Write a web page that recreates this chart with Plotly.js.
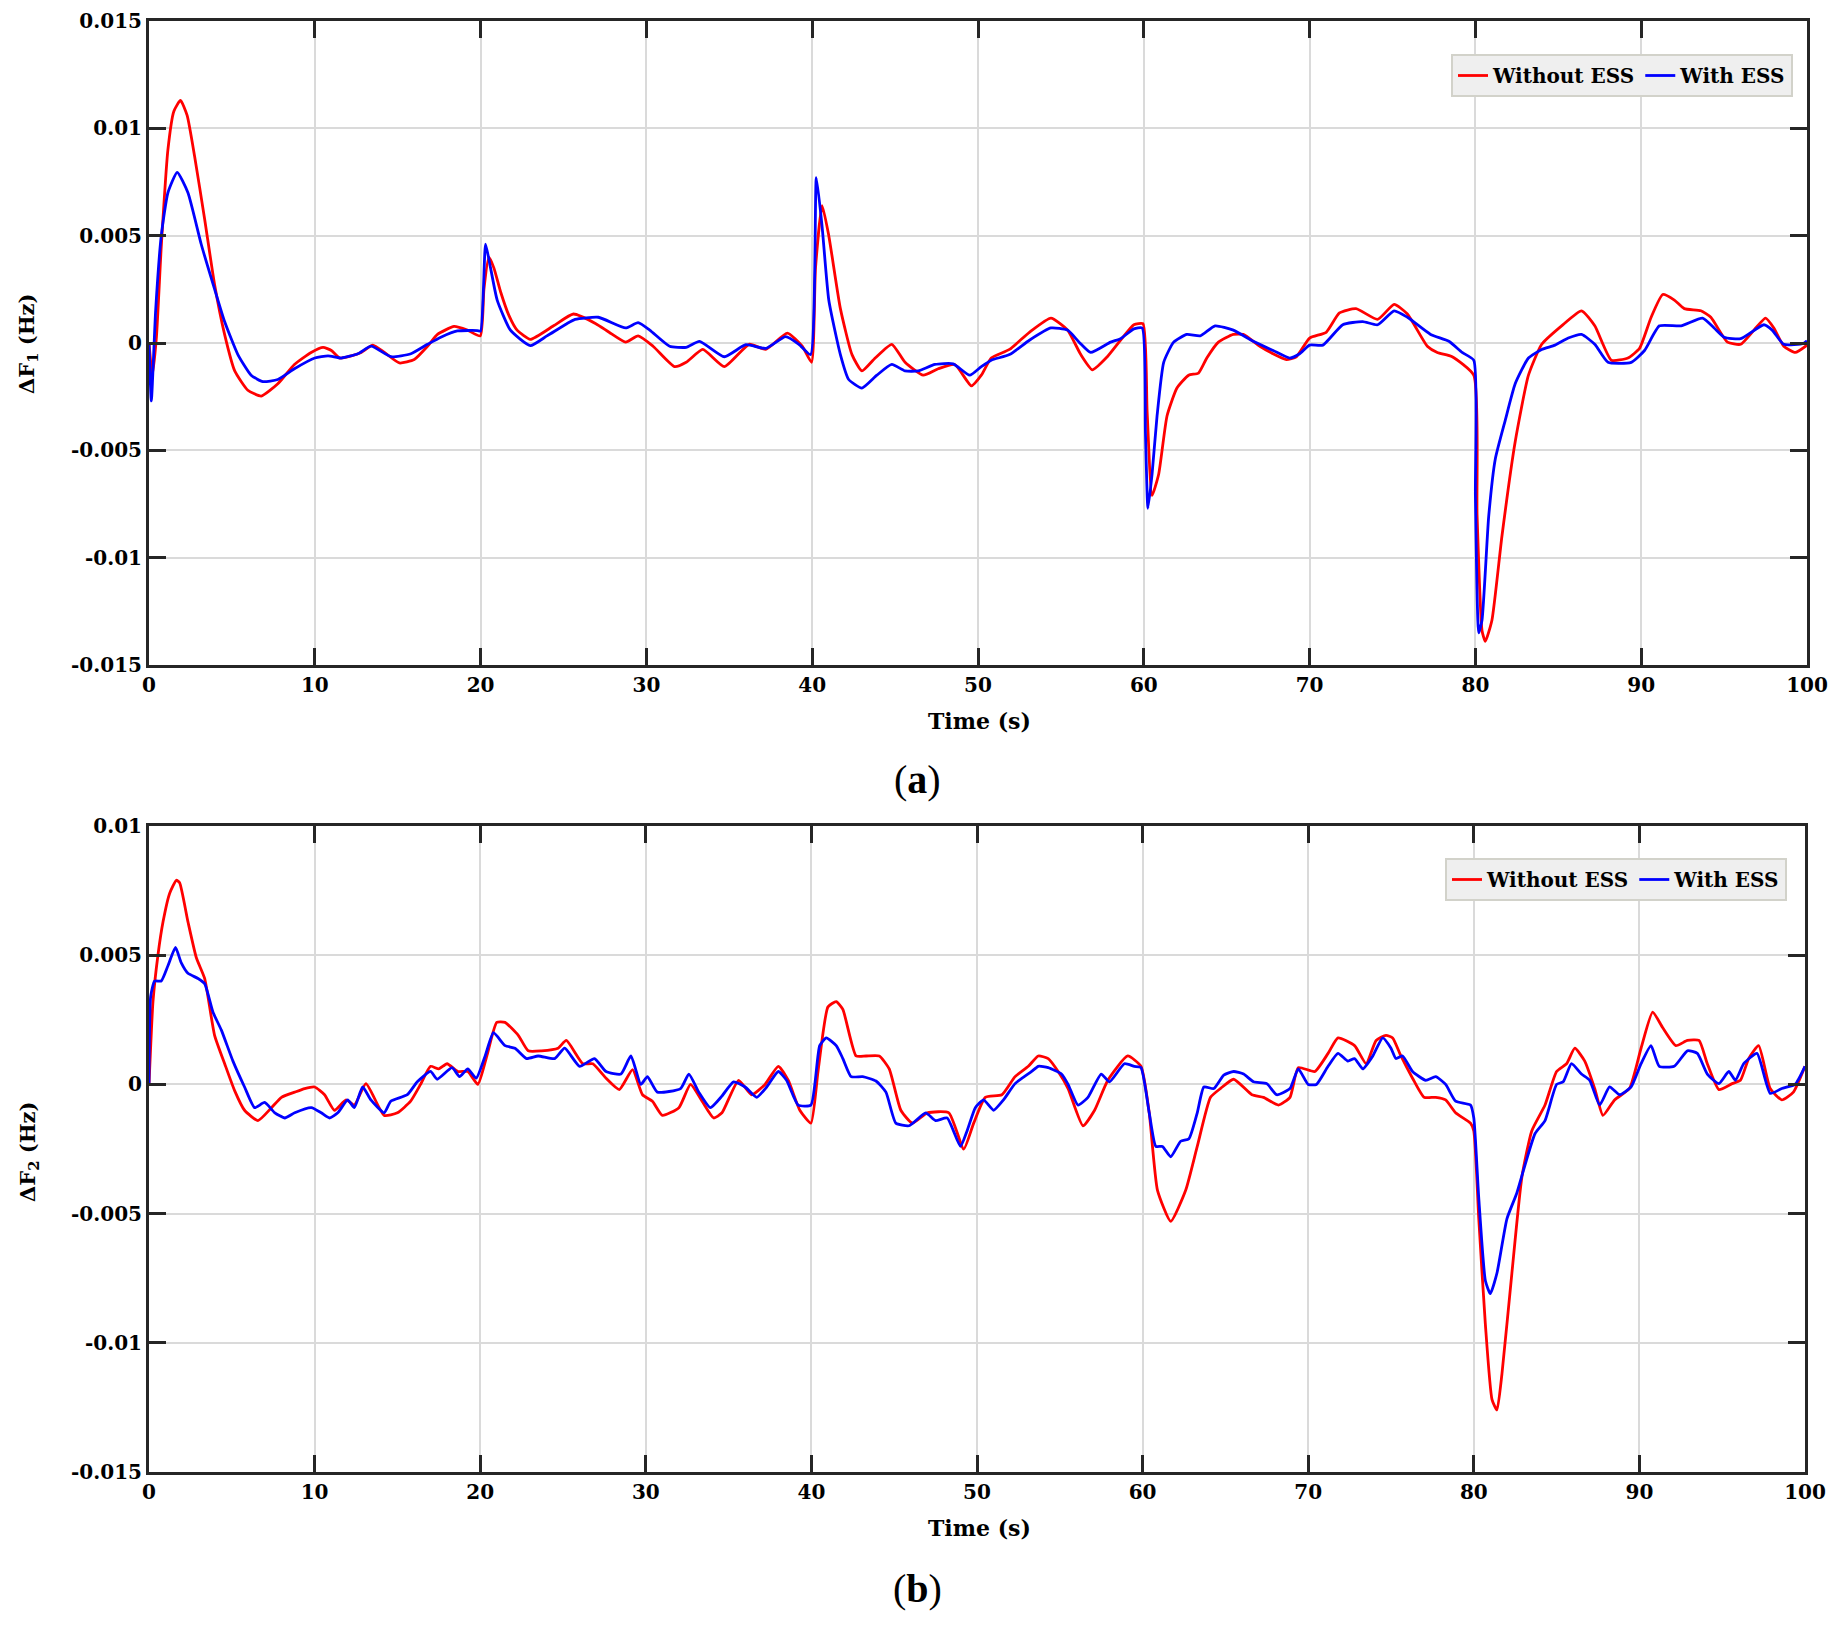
<!DOCTYPE html>
<html>
<head>
<meta charset="utf-8">
<script src="https://cdn.plot.ly/plotly-3.0.1.min.js"></script>
<style>
  body { margin: 0; background: #fff; }
  #chart { width: 1843px; height: 1627px; }
</style>
</head>
<body>
<div id="chart"></div>
<script>

// ---- data ----

// (a) deltaF1, without ESS
var tA_red = [0,0.2,0.45,0.74,1.14,1.5,1.9,2.3,2.75,3.35,3.96,4.56,5.17,5.96,6.77,7.77,8.77,9.78,10.5,11,11.5,12.2,12.8,13.5,14.2,15.1,16,16.8,17.4,18.4,19.2,19.98,20.2,20.5,20.8,21.2,21.7,22.2,23,24.4,25.6,26.95,27.75,28.75,29.5,30.4,31.7,32.4,33.4,34.7,36.2,37.2,38.5,39.4,39.96,40.2,40.6,41,41.7,42.4,43,43.8,44.8,45.6,46.7,47.6,48.6,49.6,50.2,50.8,51.9,53.1,54.4,55.4,56.2,56.9,57.8,58.7,59.4,59.95,60.2,60.5,60.9,61.4,62,62.7,63.3,63.8,64.5,65.4,66,67,67.8,68.6,69.2,70,71,71.8,72.8,74.1,75.1,75.9,77.1,77.7,78.6,79.9,80.1,80.4,80.6,81,81.6,82.4,83.2,84,85.2,86.4,87.2,88.2,89.2,89.9,90.6,91.3,92,92.6,93.6,94.2,95.2,96,96.8,97.5,98,98.6,99.3,100];
var dfA_red = [0,-0.0015,0.0003,0.0045,0.009,0.0108,0.0113,0.0106,0.0087,0.0058,0.0027,0.0004,-0.0013,-0.0022,-0.00247,-0.0019,-0.001,-0.00044,-0.0002,-0.00035,-0.0007,-0.0006,-0.00044,-0.0001,-0.00044,-0.00093,-0.00077,-0.00015,0.0004,0.00077,0.0006,0.00033,0.0025,0.004,0.0035,0.0024,0.0013,0.0006,0.00017,0.0008,0.00135,0.0009,0.0005,0.00004,0.00033,-0.00015,-0.0011,-0.0009,-0.0003,-0.0011,-0.00006,-0.0003,0.00046,-0.00015,-0.0009,0.0035,0.0064,0.005,0.0016,-0.00054,-0.0013,-0.0007,-0.00006,-0.0009,-0.0015,-0.0012,-0.001,-0.002,-0.0015,-0.0007,-0.0003,0.0005,0.00116,0.0006,-0.00054,-0.00125,-0.00064,0.00023,0.00085,0.0009,-0.0032,-0.0071,-0.0061,-0.0034,-0.0021,-0.0015,-0.0014,-0.0007,0.00004,0.0004,0.0004,-0.00015,-0.0005,-0.00077,-0.00064,0.00023,0.0005,0.0014,0.0016,0.0011,0.0018,0.00135,-0.00015,-0.00044,-0.00064,-0.0015,-0.008,-0.0134,-0.0139,-0.0129,-0.009,-0.0046,-0.0015,-0.00006,0.0008,0.0015,0.0008,-0.0008,-0.0007,-0.00025,0.0012,0.00226,0.002,0.0016,0.0015,0.0012,0.00004,-0.00006,0.0006,0.00116,0.0007,-0.00015,-0.00044,-0.0001];

// (a) deltaF1, with ESS
var tA_blue = [0,0.14,0.4,0.74,1.14,1.7,2.35,3.15,3.96,4.56,5.36,6.16,6.87,7.77,8.77,10,10.8,11.6,12.6,13.4,14.6,15.8,16.8,17.6,18.6,19.8,20,20.3,20.6,21,21.8,23,24,25.2,25.7,27.1,28.75,29.5,30.2,31.4,32.4,33.2,34.7,36,37.2,38.4,39.2,39.9,40.25,40.6,41,41.7,42.2,43,43.9,44.8,45.6,46.4,47.4,48.5,49.5,50.2,50.8,51.9,53.1,54.4,55.4,56.1,56.8,58,58.6,59.4,59.9,60.1,60.25,60.5,60.8,61.2,61.8,62.6,63.4,64.3,65.4,66.6,67.8,68.8,69.4,70,70.8,72,73.2,74.1,75.1,75.9,77.3,78.4,79.2,79.9,80,80.2,80.4,80.8,81.2,81.8,82.4,83.2,84,84.8,85.6,86.4,87.2,88,89.4,90.2,91.1,92.4,93.7,94.4,95,96,97.4,97.9,98.6,99.8,100];
var dfA_blue = [0,-0.0027,0.0015,0.005,0.007,0.00795,0.007,0.0046,0.0025,0.001,-0.00054,-0.0015,-0.0018,-0.0017,-0.0012,-0.0007,-0.0006,-0.0007,-0.0005,-0.00015,-0.00064,-0.0005,-0.00006,0.00027,0.00056,0.00058,0.00055,0.0046,0.0035,0.002,0.0006,-0.00012,0.00033,0.0009,0.0011,0.0012,0.0007,0.00095,0.0006,-0.00015,-0.0002,0.00008,-0.00064,-0.00008,-0.00025,0.0003,-0.00006,-0.00054,0.0077,0.0054,0.002,-0.00054,-0.0017,-0.0021,-0.0015,-0.001,-0.0013,-0.0013,-0.001,-0.00097,-0.0015,-0.0011,-0.0008,-0.00054,0.00013,0.0007,0.0006,0.00004,-0.00044,0.00004,0.0002,0.00066,0.0007,-0.0042,-0.0077,-0.0061,-0.0034,-0.0009,0.00004,0.0004,0.00033,0.0008,0.0006,0.00008,-0.00035,-0.0007,-0.0005,-0.0001,-0.0001,0.00085,0.001,0.00085,0.0015,0.0012,0.0004,0.00008,-0.00044,-0.0008,-0.0071,-0.0135,-0.0129,-0.0081,-0.0054,-0.0036,-0.0019,-0.0007,-0.0003,-0.0001,0.00023,0.0004,-0.00006,-0.0009,-0.0009,-0.00035,0.0008,0.0008,0.00116,0.0007,0.00027,0.0002,0.00085,0.0006,-0.00006,-0.00002,0.0001];

// (b) deltaF2, without ESS
var tB_red = [0,0.24,0.54,0.85,1.25,1.65,1.85,2.35,2.86,3.36,3.96,4.57,5.17,5.77,6.58,7.4,8,8.8,9.4,10,10.6,11.2,11.9,12.4,13.1,14.2,15,15.8,16.4,17,17.5,18,18.65,19.25,19.86,20.4,21,21.5,22.3,22.9,23.7,24.7,25.2,26.2,26.8,27.6,28.4,29.2,29.8,30.4,31,32,32.7,33.4,34.1,34.6,35.6,36.4,37.2,38,38.6,39.3,39.97,40.4,41,41.5,41.9,42.7,43.3,44.1,44.7,45.4,46.1,47,48.3,49.2,49.8,50.5,51.5,52.3,53.1,53.7,54.3,54.9,55.5,56.4,57.1,57.9,59.1,59.9,60.4,60.9,61.7,62.6,63.3,64.1,64.7,65.5,66.6,67.3,68.2,68.9,69.4,70.4,71.2,71.8,72.8,73.5,74.1,74.7,75.1,75.6,76.3,77,77.7,78.3,78.9,79.8,80,80.3,80.7,81.1,81.4,81.7,82.3,82.9,83.5,84.3,85,85.6,86.1,86.7,87.3,87.8,88.5,89.4,90.1,90.8,91.4,92.2,92.9,93.6,94.1,94.8,95.6,96.1,96.6,97.2,97.9,98.6,99.3,100];
var dfB_red = [0,0.0032,0.005,0.0063,0.0074,0.0079,0.0078,0.0063,0.0049,0.0041,0.0019,0.0008,-0.00024,-0.001,-0.0014,-0.0009,-0.0005,-0.0003,-0.00016,-0.0001,-0.0004,-0.001,-0.0006,-0.0008,0.00003,-0.0012,-0.0011,-0.00065,0,0.0007,0.0006,0.0008,0.0005,0.0005,0,0.0011,0.0024,0.0024,0.0019,0.0013,0.0013,0.0014,0.0017,0.0008,0.0008,0.00024,-0.0002,0.00057,-0.0004,-0.00065,-0.0012,-0.0009,0,-0.00065,-0.0013,-0.0011,0.00016,-0.0004,0,0.0007,0.00016,-0.001,-0.0015,0.0005,0.003,0.0032,0.0029,0.0011,0.0011,0.0011,0.0006,-0.001,-0.0015,-0.0011,-0.0011,-0.0025,-0.0015,-0.0005,-0.0004,0.0003,0.0007,0.0011,0.001,0.0005,-0.00016,-0.0016,-0.001,0.00016,0.0011,0.0007,-0.0011,-0.0041,-0.0053,-0.0041,-0.0024,-0.0005,-0.00016,0.0002,-0.0004,-0.0005,-0.0008,-0.0005,0.00065,0.0005,0.0012,0.0018,0.0015,0.0008,0.0017,0.0019,0.0018,0.0011,0.00024,-0.0005,-0.0005,-0.0006,-0.0011,-0.0015,-0.0018,-0.0052,-0.0093,-0.0122,-0.0126,-0.0112,-0.0073,-0.0036,-0.0018,-0.0008,0.0005,0.0008,0.0014,0.0009,-0.00016,-0.0012,-0.0006,-0.00016,0.0014,0.0028,0.0022,0.0015,0.0017,0.0017,0.0008,-0.0002,0.00003,0.00016,0.001,0.0015,-0.00016,-0.0006,-0.0003,0.0007];

// (b) deltaF2, with ESS
var tB_blue = [0,0.1,0.34,0.74,1.15,1.6,1.95,2.35,2.96,3.36,3.86,4.37,5.07,5.77,6.38,6.98,7.6,8.2,8.8,9.8,10.4,10.9,11.4,12,12.4,12.9,13.4,14.2,14.6,15.6,16.2,17,17.4,18.3,18.75,19.25,19.76,20.3,20.8,21.5,22.1,22.8,23.5,24.5,25.1,26,26.9,27.6,28.5,29.1,29.7,30.1,30.7,32.1,32.6,33.2,33.9,34.6,35.3,36,36.7,37.3,38,38.5,39.2,39.97,40.5,40.9,41.5,41.9,42.4,43.1,43.9,44.5,45.1,45.9,46.9,47.5,48.2,49,49.4,49.9,50.4,51,51.6,52.3,53.3,53.7,54.3,55.1,55.5,56.1,56.7,57.5,58,58.9,59.5,59.9,60.4,60.8,61.2,61.7,62.3,62.8,63.3,63.7,64.3,64.9,65.5,66.1,66.7,67.5,68.1,68.9,69.4,70,70.5,71.2,71.8,72.4,72.8,73.3,73.9,74.5,75,75.3,75.7,76.3,77.1,77.7,78.3,78.9,79.8,80,80.3,80.7,81,81.4,82,82.6,83.1,83.7,84.3,85,85.4,85.9,86.5,87,87.6,88.2,88.8,89.5,90.1,90.7,91.2,92.1,92.9,93.5,94.1,94.8,95.4,95.8,96.3,97.1,97.9,98.6,99.4,100];
var dfB_blue = [0,0.0034,0.004,0.004,0.0046,0.0053,0.0047,0.0043,0.0041,0.0039,0.0028,0.0021,0.0009,-0.0001,-0.0009,-0.0007,-0.0011,-0.0013,-0.0011,-0.0009,-0.0011,-0.0013,-0.0011,-0.0006,-0.0009,-0.0001,-0.0006,-0.0011,-0.00065,-0.0004,0.0001,0.0005,0.0002,0.00065,0.0003,0.0006,0.00024,0.0011,0.002,0.0015,0.0014,0.001,0.0011,0.001,0.0014,0.0007,0.001,0.0005,0.0004,0.0011,0,0.0003,-0.0003,-0.00016,0.0004,-0.0003,-0.0009,-0.00045,0.0001,-0.0001,-0.0005,-0.0001,0.0005,0.00016,-0.0008,-0.0008,0.0015,0.0018,0.0015,0.001,0.0003,0.0003,0.00013,-0.0003,-0.0015,-0.0016,-0.0011,-0.0014,-0.0013,-0.0024,-0.0018,-0.0009,-0.0006,-0.001,-0.0006,0.00003,0.0005,0.0007,0.00065,0.0004,0,-0.0008,-0.0005,0.0004,0.0001,0.0008,0.0007,0.00065,-0.0011,-0.0024,-0.0024,-0.0028,-0.0022,-0.0021,-0.0011,-0.0001,-0.00016,0.00036,0.0005,0.0004,0.0001,0.00003,-0.0004,-0.00016,0.0006,0,0,0.0007,0.0012,0.0009,0.001,0.0006,0.0011,0.0018,0.0014,0.001,0.0011,0.0005,0.00016,0.0003,0,-0.00065,-0.0008,-0.0013,-0.0044,-0.0076,-0.0081,-0.0073,-0.0052,-0.0042,-0.0031,-0.0019,-0.0014,0,0.0001,0.0008,0.0004,0.00016,-0.0008,-0.0001,-0.0004,-0.0001,0.0008,0.0015,0.0007,0.0007,0.0013,0.0012,0.0004,0.00003,0.0005,0.00016,0.0008,0.0012,-0.00035,-0.00016,0,0.0007];

// tick labels
var xTicks = [0,10,20,30,40,50,60,70,80,90,100];
var yTicksA = [-0.015,-0.01,-0.005,0,0.005,0.01,0.015];
var yLabelsA = ['-0.015','-0.01','-0.005','0','0.005','0.01','0.015'];
var yTicksB = [-0.015,-0.01,-0.005,0,0.005,0.01];
var yLabelsB = ['-0.015','-0.01','-0.005','0','0.005','0.01'];
var seriesNames = ['Without ESS', 'With ESS'];

// ---- style ----
var FONT = 'DejaVu Serif';
var RED = '#ff0000', BLUE = '#0000ff';
var W = 1843, H = 1627;

// pixel -> paper helpers
function px(x) { return x / W; }
function py(y) { return 1 - y / H; }

function xAxis(anchor, dom) {
  return {
    anchor: anchor, domain: dom, range: [0, 100],
    tickvals: xTicks, ticktext: xTicks.map(String),
    ticks: 'inside', ticklen: 17, tickwidth: 3, tickcolor: '#262626',
    showline: true, linecolor: '#262626', linewidth: 3, mirror: 'ticks',
    showgrid: true, gridcolor: '#dadada', gridwidth: 2, zeroline: false,
    tickfont: {family: FONT, size: 20, weight: 'bold', color: '#000'}
  };
}
function yAxis(anchor, dom, rng, vals, labels) {
  return {
    anchor: anchor, domain: dom, range: rng,
    tickvals: vals, ticktext: labels,
    ticks: 'inside', ticklen: 17, tickwidth: 3, tickcolor: '#262626',
    showline: true, linecolor: '#262626', linewidth: 3, mirror: 'ticks',
    showgrid: true, gridcolor: '#dadada', gridwidth: 2, zeroline: false,
    tickfont: {family: FONT, size: 20, weight: 'bold', color: '#000'}
  };
}

function line(t, v, name, color, xa, ya, leg) {
  return {
    x: t, y: v, name: name, type: 'scatter', mode: 'lines',
    xaxis: xa, yaxis: ya, legend: leg,
    line: {color: color, width: 2.8, shape: 'spline', smoothing: 0.5}
  };
}

var data = [
  line(tA_red, dfA_red, seriesNames[0], RED, 'x', 'y', 'legend'),
  line(tA_blue, dfA_blue, seriesNames[1], BLUE, 'x', 'y', 'legend'),
  line(tB_red, dfB_red, seriesNames[0], RED, 'x2', 'y2', 'legend2'),
  line(tB_blue, dfB_blue, seriesNames[1], BLUE, 'x2', 'y2', 'legend2')
];

var legFont = {family: FONT, size: 20, weight: 'bold', color: '#000'};
function legendBox(xr, yt) {
  return {
    x: xr, xanchor: 'right', y: yt, yanchor: 'top', orientation: 'h',
    bgcolor: '#efefef', bordercolor: '#d2d2ca', borderwidth: 2,
    font: legFont, traceorder: 'normal'
  };
}

// centred text in paper coords (anchors set explicitly, 'auto' shifts them)
function label(txt, x, y, size, family, angle) {
  return {
    text: txt, x: px(x), y: py(y), xref: 'paper', yref: 'paper',
    xanchor: 'center', yanchor: 'middle', showarrow: false,
    textangle: angle || 0, font: {family: family, size: size, color: '#000'}
  };
}

var layout = {
  width: W, height: H,
  margin: {l: 0, r: 0, t: 0, b: 0},
  paper_bgcolor: '#fff', plot_bgcolor: '#fff',
  xaxis: xAxis('y', [px(149), px(1807)]),
  yaxis: yAxis('x', [py(665), py(21)], [-0.015, 0.015], yTicksA, yLabelsA),
  xaxis2: xAxis('y2', [px(149), px(1805)]),
  yaxis2: yAxis('x2', [py(1472), py(826)], [-0.015, 0.01], yTicksB, yLabelsB),
  legend: legendBox(px(1793), py(54)),
  legend2: legendBox(px(1787), py(858)),
  annotations: [
    label('<b>Time (s)</b>', 979, 721, 22, FONT),
    label('<b>Time (s)</b>', 979, 1528, 22, FONT),
    label('<b>ΔF<sub>1</sub> (Hz)</b>', 28, 344, 21, FONT, -90),
    label('<b>ΔF<sub>2</sub> (Hz)</b>', 28, 1152, 21, FONT, -90),
    label('(<b>a</b>)', 917, 779, 40, 'Liberation Serif'),
    label('(<b>b</b>)', 917, 1588, 40, 'Liberation Serif')
  ]
};

Plotly.newPlot('chart', data, layout, {displayModeBar: false, staticPlot: true});
</script>
</body>
</html>
